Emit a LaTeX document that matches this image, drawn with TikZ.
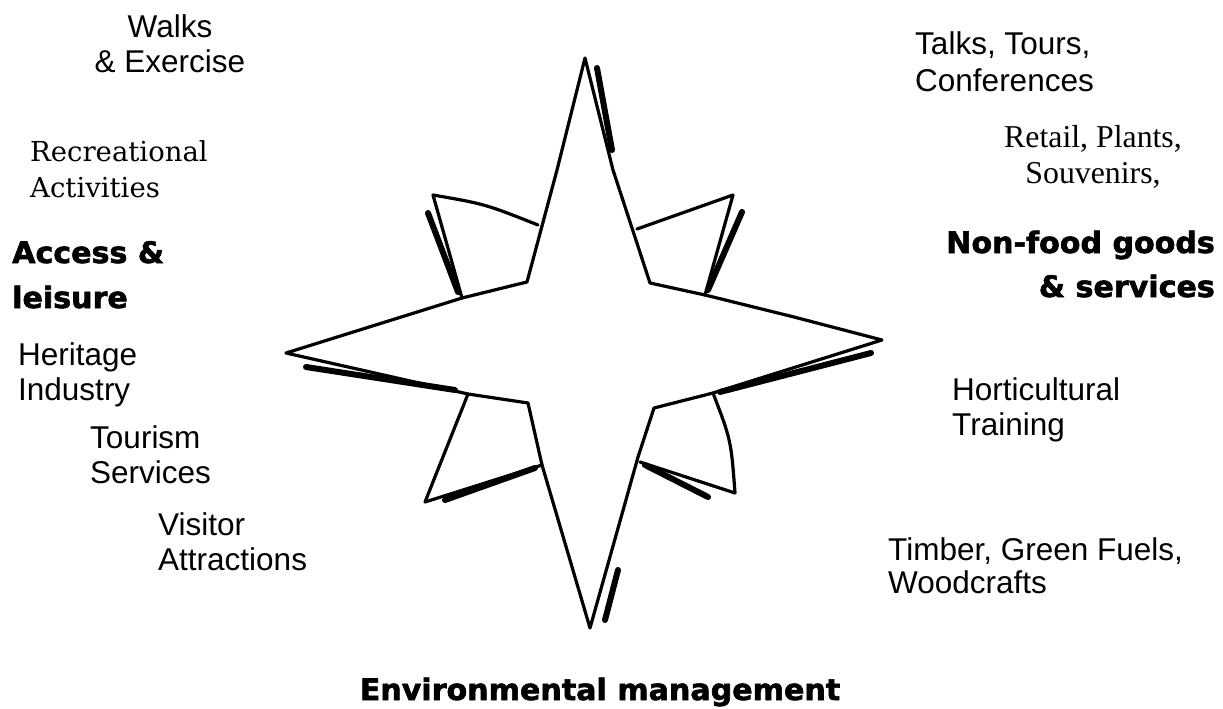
\documentclass[tikz,border=0pt]{standalone}
\usepackage{fontspec}
\setmainfont{Liberation Sans}
\newfontfamily\timesfont{Liberation Serif}
\newfontfamily\bookfont{DejaVu Serif}
\newfontfamily\heavyfont[FakeStretch=1.02,BoldFeatures={FakeBold=2}]{DejaVu Sans}
\usepackage{tikz}

\tikzset{
  sans/.style={font=\fontsize{31.5}{36}\selectfont, inner sep=0pt},
  roman/.style={font=\timesfont\fontsize{31.8}{36}\selectfont, inner sep=0pt},
  book/.style={font=\bookfont\fontsize{27.5}{36}\selectfont, inner sep=0pt},
  heading/.style={font=\heavyfont\bfseries\fontsize{29.5}{36}\selectfont, inner sep=0pt},
  edge/.style={line width=3.2pt, line join=round, line cap=round},
  ink/.style={line width=6pt, line cap=round},
}

\begin{document}
\begin{tikzpicture}[x=1pt,y=-1pt]
\useasboundingbox (0,0) rectangle (1223,709);

% star points
\coordinate (n) at (585,58);
\coordinate (e) at (882,340);
\coordinate (s) at (590,628);
\coordinate (w) at (286,353);
\coordinate (ne) at (650,283);
\coordinate (se) at (654,408);
\coordinate (sw) at (528,403);
\coordinate (nw) at (527,282);

\draw[edge] (n) -- (613,170) -- (ne) -- (705,295) -- (794,317) -- (e)
  -- (713,393) -- (se) -- (638,457) -- (s) -- (542,465) -- (sw)
  -- (468,394) -- (w) -- (462,298) -- (nw) -- (557,170) -- cycle; % outline

% small points between the arms
\draw[edge] (538,225) .. controls (485,204) .. (433,195) -- (462,298);
\draw[edge] (637,229) -- (733,195) -- (705,295);
\draw[edge] (468,394) -- (425,502) -- (542,465);
\draw[edge] (713,393) .. controls (731,440) .. (735,493) -- (640,462);

% heavy pen strokes
\draw[ink] (428,213) -- (458,292);
\draw[ink] (742,212) -- (708,290);
\draw[ink] (445,500) -- (535,468);
\draw[ink] (645,465) -- (708,497);
\draw[ink] (597,68) -- (612,150);
\draw[ink] (306,367) -- (455,390);
\draw[ink] (871,353) -- (720,392);
\draw[ink] (605,620) -- (618,570);

% left side
\node[sans, anchor=base] (walks) at (170,38) {Walks};
\node[sans, anchor=base] (exercise) at (170,73) {\& Exercise};
\node[book, anchor=base west] (recreational) at (30,161) {Recreational};
\node[book, anchor=base west] (activities) at (30,197) {Activities};
\node[heading, anchor=base west] (access) at (12,263) {Access \&};
\node[heading, anchor=base west] (leisure) at (12,308) {leisure};
\node[sans, anchor=base west] (heritage) at (18,365) {Heritage};
\node[sans, anchor=base west] (industry) at (18,400) {Industry};
\node[sans, anchor=base west] (tourism) at (90,448) {Tourism};
\node[sans, anchor=base west] (services) at (90,483) {Services};
\node[sans, anchor=base west] (visitor) at (158,535) {Visitor};
\node[sans, anchor=base west] (attractions) at (158,570) {Attractions};

% right side
\node[sans, anchor=base west] (talks) at (915,55) {Talks, Tours,};
\node[sans, anchor=base west] (conferences) at (915,92) {Conferences};
\node[roman, anchor=base] (retail) at (1093,147) {Retail, Plants,};
\node[roman, anchor=base] (souvenirs) at (1093,183) {Souvenirs,};
\node[heading, anchor=base east] (nonfood) at (1215,253) {Non-food goods};
\node[heading, anchor=base east] (goods) at (1215,297) {\& services};
\node[sans, anchor=base west] (horticultural) at (952,400) {Horticultural};
\node[sans, anchor=base west] (training) at (952,435) {Training};
\node[sans, anchor=base west] (timber) at (888,560) {Timber, Green Fuels,};
\node[sans, anchor=base west] (woodcrafts) at (888,593) {Woodcrafts};

\node[heading, anchor=base] (environment) at (600,700) {Environmental management}; % bottom label
\end{tikzpicture}
\end{document}
